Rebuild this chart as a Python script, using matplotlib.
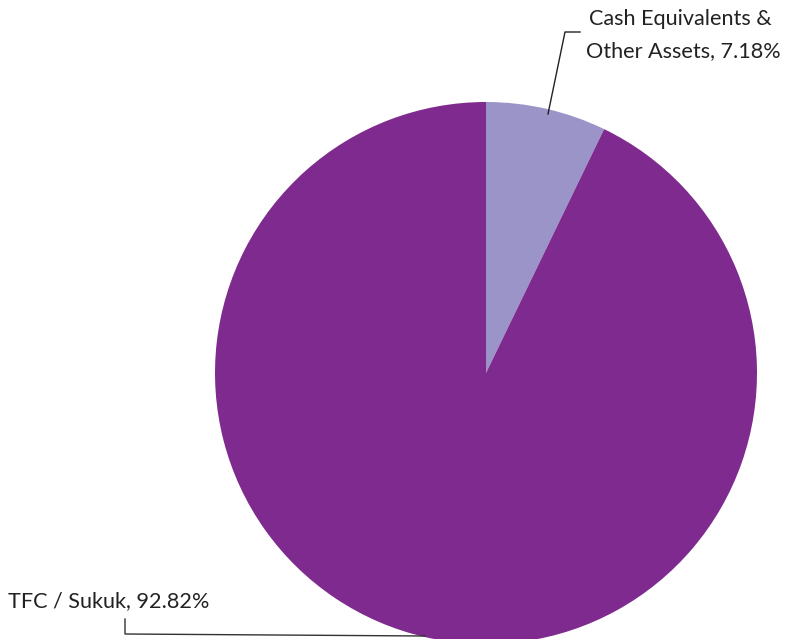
import matplotlib
matplotlib.use('Agg')
import matplotlib.pyplot as plt

labels = ['Cash Equivalents &\nOther Assets, 7.18%', 'TFC / Sukuk, 92.82%']
values = [7.18, 92.82]
colors = ['#9b94c8', '#7f2a8e']

H = 639
fig = plt.figure(figsize=(7.95, 6.39), dpi=100)
ax = fig.add_axes([0, 0, 1, 1])

ax.pie(values, colors=colors, startangle=90, counterclock=False,
       center=(486, H - 373), radius=271, frame=True)
ax.set_xlim(0, 795)
ax.set_ylim(0, H)
ax.set_aspect('equal')
ax.axis('off')

# leader lines
ax.plot([548, 565, 580], [H - 114, H - 32, H - 32], color='#222222', lw=1)
ax.plot([125, 125, 425], [H - 619, H - 634, H - 636], color='#333333', lw=1)

ax.text(589, H - 19, 'Cash Equivalents &', fontsize=15.6, family='Lato',
        color='#222222', va='center', ha='left')
ax.text(586, H - 51, 'Other Assets, 7.18%', fontsize=15.6, family='Lato',
        color='#222222', va='center', ha='left')
ax.text(8, H - 601, labels[1], fontsize=15.6, family='Lato',
        color='#222222', va='center', ha='left')

fig.savefig('out.png', dpi=100)
